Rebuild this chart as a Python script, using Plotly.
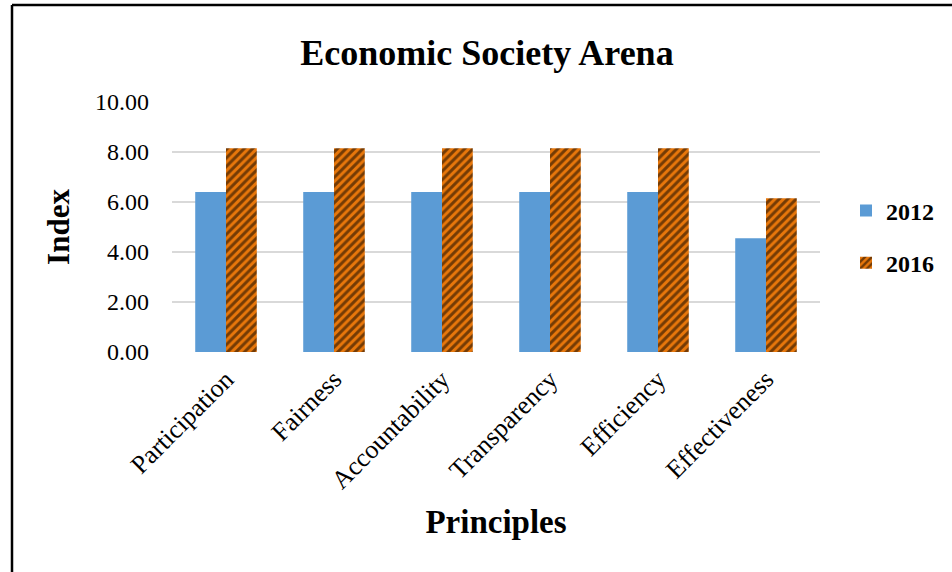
import plotly.graph_objects as go

categories = ["Participation", "Fairness", "Accountability", "Transparency", "Efficiency", "Effectiveness"]
series_2012 = [6.40, 6.40, 6.40, 6.40, 6.40, 4.55]
series_2016 = [8.15, 8.15, 8.15, 8.15, 8.15, 6.15]
y_ticks = [0, 2, 4, 6, 8, 10]

SERIF = "Liberation Serif, Times New Roman, serif"

fig = go.Figure()
fig.add_trace(go.Bar(
    name="<b>2012</b>", x=categories, y=series_2012,
    marker=dict(color="#5B9BD5", line=dict(width=0)),
    legendgroup="a",
))
fig.add_trace(go.Bar(
    name="<b>2016</b>", x=categories, y=series_2016,
    marker=dict(color="#E8770B", line=dict(width=0),
                pattern=dict(shape="/", fgcolor="black", bgcolor="#E8770B",
                             size=6, solidity=0.5)),
    legendgroup="b",
))

L, R, T, B = 172, 132, 102, 220
W, H = 952, 572
pw, ph = W - L - R, H - T - B

def px2paper_x(px):
    return (px - L) / pw

def px2paper_y(py):
    return (H - B - py) / ph

fig.update_layout(
    width=W, height=H,
    margin=dict(l=L, r=R, t=T, b=B, autoexpand=False),
    paper_bgcolor="white", plot_bgcolor="white",
    barmode="group", bargap=0.43, bargroupgap=0,
    font=dict(family=SERIF, color="black"),
    title=dict(text="<b>Economic Society Arena</b>", font=dict(size=36, family=SERIF, color="black"),
               x=487 / W, xanchor="center", y=1 - 52 / H, yanchor="middle",
               xref="container", yref="container"),
    legend=dict(x=px2paper_x(846), xanchor="left", y=px2paper_y(237), yanchor="middle",
                font=dict(size=24, family=SERIF, color="black"),
                tracegroupgap=18, itemwidth=30, bgcolor="rgba(0,0,0,0)"),
    showlegend=True,
)

fig.update_yaxes(
    range=[0, 10], tickvals=y_ticks, tickformat=".2f",
    showgrid=True, gridcolor="#D9D9D9", gridwidth=1.5,
    zeroline=False, showline=False, ticks="",
    ticklabelstandoff=22,
    tickfont=dict(size=24, family=SERIF, color="black"),
    title=dict(text="<b>Index</b>", font=dict(size=31, family=SERIF, color="black"), standoff=16),
)
fig.update_xaxes(
    showgrid=False, zeroline=False, showline=False, ticks="",
    tickangle=-45, ticklabelstandoff=6,
    tickfont=dict(size=26, family=SERIF, color="black"),
    title=dict(text="<b>Principles</b>", font=dict(size=33, family=SERIF, color="black"), standoff=16),
)

# outer frame (partially cropped in the reference)
x_left = px2paper_x(12)
y_top = px2paper_y(5)
fig.add_shape(type="line", xref="paper", yref="paper",
              x0=x_left, x1=x_left, y0=px2paper_y(580), y1=y_top,
              line=dict(color="black", width=2.5))
fig.add_shape(type="line", xref="paper", yref="paper",
              x0=x_left, x1=px2paper_x(960), y0=y_top, y1=y_top,
              line=dict(color="black", width=2.5))

fig.write_html("out.html")
